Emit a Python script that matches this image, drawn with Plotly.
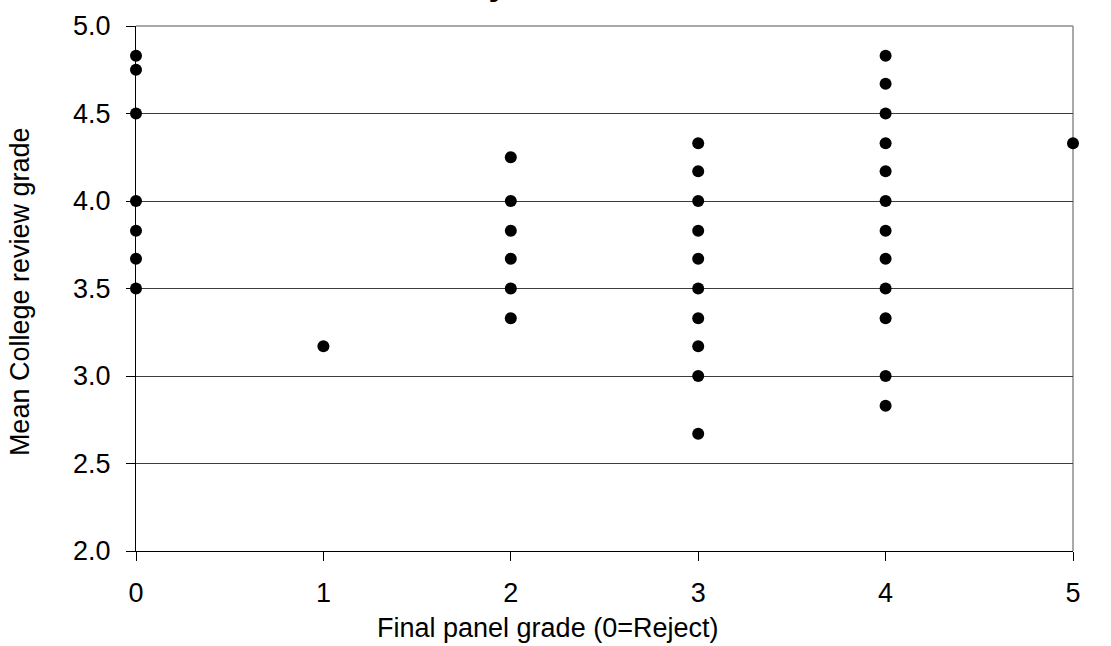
import plotly.graph_objects as go

# Final panel grade (x) and Mean College review grade (y)
panel_grade = [0, 0, 0, 0, 0, 0, 0,
               1,
               2, 2, 2, 2, 2, 2,
               3, 3, 3, 3, 3, 3, 3, 3, 3, 3,
               4, 4, 4, 4, 4, 4, 4, 4, 4, 4, 4, 4,
               5]
review_grade = [4.83, 4.75, 4.50, 4.00, 3.83, 3.67, 3.50,
                3.17,
                4.25, 4.00, 3.83, 3.67, 3.50, 3.33,
                4.33, 4.17, 4.00, 3.83, 3.67, 3.50, 3.33, 3.17, 3.00, 2.67,
                4.83, 4.67, 4.50, 4.33, 4.17, 4.00, 3.83, 3.67, 3.50, 3.33, 3.00, 2.83,
                4.33]

x_ticks = [0, 1, 2, 3, 4, 5]
y_ticks = [2.0, 2.5, 3.0, 3.5, 4.0, 4.5, 5.0]

title_text = "Mean Review Scores by Final Outcome"
x_title = "Final panel grade (0=Reject)"
y_title = "Mean College review grade"

FONT = "Liberation Sans, Arial, sans-serif"
FS = 27

fig = go.Figure()
fig.add_trace(go.Scatter(
    x=panel_grade, y=review_grade, mode="markers",
    marker=dict(color="black", size=12, line=dict(width=0)),
    cliponaxis=False, showlegend=False, hoverinfo="x+y",
))

fig.update_layout(
    width=1111, height=646,
    margin=dict(l=136, r=38, t=26, b=95),
    paper_bgcolor="white", plot_bgcolor="white",
    font=dict(family=FONT, size=FS, color="black"),
    xaxis=dict(
        range=[0, 5], tickvals=x_ticks, ticktext=[str(v) for v in x_ticks],
        showgrid=False, zeroline=False,
        showline=True, linecolor="black", linewidth=1,
        ticks="outside", ticklen=9, tickcolor="black", tickwidth=1,
        ticklabelstandoff=9,
        tickfont=dict(family=FONT, size=FS, color="black"),
    ),
    yaxis=dict(
        range=[2, 5], tickvals=y_ticks, ticktext=["%.1f" % v for v in y_ticks],
        showgrid=True, gridcolor="#3c3c3c", gridwidth=1, zeroline=False,
        showline=True, linecolor="black", linewidth=1,
        ticks="outside", ticklen=9, tickcolor="black", tickwidth=1,
        ticklabelstandoff=10,
        tickfont=dict(family=FONT, size=FS, color="black"),
    ),
    shapes=[
        dict(type="line", xref="paper", yref="paper", x0=0, x1=1, y0=1, y1=1,
             line=dict(color="#8c8c8c", width=1.5), layer="between"),
        dict(type="line", xref="paper", yref="paper", x0=1, x1=1, y0=0, y1=1,
             line=dict(color="#8c8c8c", width=1.5), layer="between"),
    ],
    annotations=[
        dict(text=title_text, xref="paper", yref="paper", x=-0.0175, y=1,
             xanchor="left", yanchor="bottom", yshift=22, showarrow=False,
             font=dict(family=FONT, size=34, color="black", weight="bold")),
        dict(text=x_title, xref="paper", yref="paper", x=0.4397, y=-0.1467,
             xanchor="center", yanchor="middle", showarrow=False,
             font=dict(family=FONT, size=FS, color="black")),
        dict(text=y_title, xref="paper", yref="paper", x=-0.1238, y=0.495,
             xanchor="center", yanchor="middle", textangle=-90, showarrow=False,
             font=dict(family=FONT, size=FS, color="black")),
    ],
)

fig.write_html("out.html", config={"displayModeBar": False},
               post_script="document.body.style.margin='0';")
